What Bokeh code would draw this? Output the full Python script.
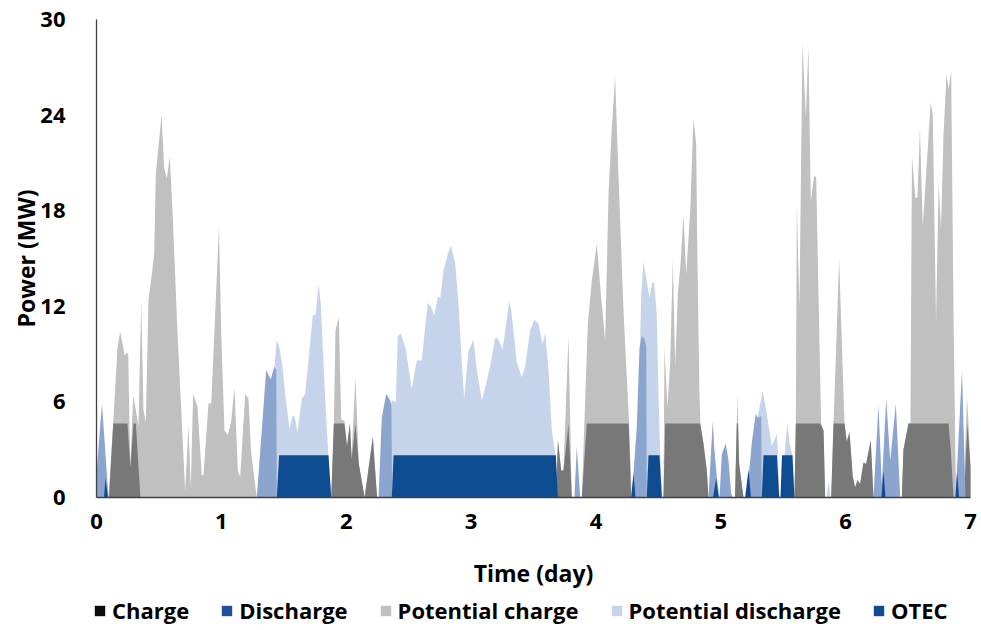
import math
from bokeh.plotting import figure
from bokeh.models import ColumnDataSource, Legend, LegendItem, Range1d, FixedTicker, Label
from bokeh.embed import file_html
from bokeh.resources import INLINE

# ---- data (time in days, power in MW) ----
pc_t = [0, 0.096, 0.134, 0.168, 0.190, 0.227, 0.243, 0.254, 0.270, 0.294, 0.315, 0.336, 0.358, 0.376, 0.395,
        0.416, 0.443, 0.462, 0.475, 0.521, 0.542, 0.563, 0.587, 0.609, 0.649, 0.675, 0.694, 0.710, 0.737,
        0.755, 0.774, 0.809, 0.843, 0.857, 0.897, 0.919, 0.981, 0.999, 1.025, 1.052, 1.079, 1.105, 1.132,
        1.151, 1.191, 1.217, 1.239, 1.284,
        1.880, 1.901, 1.914, 1.941, 1.960, 1.986, 2.008, 2.029, 2.042, 2.074, 2.101, 2.146, 2.213, 2.248,
        3.684, 3.695, 3.722, 3.740, 3.780, 3.807, 3.887, 3.935, 3.967, 4.007, 4.039, 4.074, 4.101, 4.127,
        4.154, 4.181, 4.221, 4.247, 4.266, 4.287,
        4.541, 4.549, 4.573, 4.595, 4.616, 4.635, 4.656, 4.680, 4.701, 4.723, 4.755, 4.781, 4.803, 4.813,
        4.829, 4.837, 4.861, 4.888, 4.901,
        5.114, 5.134, 5.147, 5.182,
        5.590, 5.601, 5.609, 5.630, 5.654, 5.681, 5.702, 5.721, 5.748, 5.764, 5.783, 5.804, 5.823, 5.836,
        5.884, 5.903, 5.948, 5.975, 5.991, 6.009, 6.031, 6.057, 6.076, 6.095, 6.116, 6.143, 6.164, 6.201, 6.223,
        6.450, 6.463, 6.503, 6.519, 6.531, 6.559, 6.575, 6.595, 6.618, 6.681, 6.698, 6.724, 6.745, 6.764,
        6.784, 6.808, 6.825, 6.845, 6.865, 6.884,
        6.944, 6.972, 6.984, 7.000]
pc_v = [0, 0, 4.7, 9.4, 10.4, 8.9, 9.1, 9.0, 1.9, 6.4, 5.5, 4.4, 12.3, 5.5, 4.7,
        12.4, 14.0, 15.3, 20.3, 24.0, 20.7, 20.0, 21.4, 18.0, 10.3, 6.1, 3.0, 0.4, 4.5,
        0.6, 6.5, 5.7, 1.4, 1.4, 5.9, 5.9, 17.0, 10.3, 4.2, 3.9, 4.8, 6.9, 1.7,
        1.3, 6.5, 6.2, 2.8, 0,
        0, 4.65, 10.5, 11.3, 4.9, 4.8, 3.2, 4.65, 2.5, 7.55, 2.1, 0, 3.8, 0,
        0, 3.6, 1.7, 1.7, 10.1, 0, 0, 10.9, 13.6, 15.9, 12.8, 9.9, 19.1, 23.2,
        26.4, 20.1, 11.7, 7.55, 4.6, 0,
        0, 9.4, 5.7, 8.6, 14.9, 8.2, 12.8, 14.9, 17.8, 14.0, 18.0, 23.8, 22.2, 14.9,
        6.5, 4.65, 3.4, 1.7, 0,
        0, 6.5, 2.1, 0,
        0, 4.65, 18.4, 11.95, 28.5, 23.9, 28.3, 18.6, 20.2, 20.1, 12.6, 4.65, 4.2, 0,
        0, 4.65, 15.0, 8.4, 4.65, 3.5, 4.1, 1.3, 0.65, 1.1, 0.85, 2.2, 2.1, 3.6, 0,
        0, 3.0, 4.65, 4.65, 21.4, 18.8, 18.85, 23.2, 17.0, 24.8, 24.0, 11.1, 19.7, 16.9,
        22.8, 26.6, 25.6, 26.8, 10.8, 0,
        0, 6.3, 4.65, 1.9]

pd_t = [0, 1.422, 1.426, 1.444, 1.463, 1.490, 1.511, 1.546, 1.570, 1.586, 1.610, 1.644, 1.671, 1.698,
        1.732, 1.756, 1.778, 1.796, 1.832, 1.858, 1.880,
        2.359, 2.363, 2.379, 2.397, 2.413, 2.437, 2.477, 2.525, 2.565, 2.605, 2.653, 2.677, 2.705, 2.734,
        2.753, 2.779, 2.811, 2.838, 2.873, 2.899, 2.926, 2.945, 2.979, 3.019, 3.046, 3.086, 3.126, 3.161,
        3.193, 3.214, 3.252, 3.278, 3.305, 3.321, 3.366, 3.406, 3.433, 3.473, 3.508, 3.540, 3.572, 3.594,
        3.620, 3.647, 3.679, 3.695,
        4.325, 4.363, 4.381, 4.407, 4.429, 4.451, 4.467, 4.487, 4.501, 4.515, 4.533,
        5.270, 5.294, 5.336, 5.368, 5.409, 5.449, 5.462, 5.470, 5.486, 5.516, 5.534, 5.550, 5.574, 5.590,
        5.847, 5.863, 5.879, 7.0]
pd_v = [0, 0, 8.2, 9.9, 9.5, 8.2, 6.5, 4.3, 5.1, 5.1, 4.1, 6.2, 6.5, 8.6,
        11.4, 11.5, 13.4, 12.2, 6.1, 2.5, 0,
        0, 6.0, 6.1, 6.0, 10.1, 10.3, 9.3, 6.8, 8.6, 8.6, 12.2, 12.0, 11.4, 12.6,
        12.5, 14.25, 15.2, 15.8, 14.7, 12.2, 8.4, 6.2, 9.2, 9.9, 8.0, 6.1, 7.3, 8.6,
        10.0, 10.0, 9.3, 10.7, 12.3, 11.8, 8.5, 7.55, 8.2, 10.5, 11.15, 10.9, 9.65, 10.3,
        8.0, 4.2, 2.5, 0,
        0, 12.8, 14.8, 13.6, 12.5, 13.5, 13.5, 11.5, 6.5, 2.65, 0,
        0, 5.0, 6.7, 5.25, 3.2, 4.0, 2.1, 0, 0, 3.2, 4.7, 3.4, 2.65, 0,
        0, 1.0, 0, 0]

ch_t = [0, 0.100, 0.134, 0.248, 0.272, 0.296, 0.315, 0.352,
        1.880, 1.901, 1.986, 2.006, 2.029, 2.044, 2.074, 2.101, 2.148, 2.213, 2.247,
        3.680, 3.696, 3.722, 3.740, 3.780, 3.807, 3.887, 3.927, 4.262, 4.282,
        4.541, 4.555, 4.834, 4.861, 4.888, 4.901,
        5.114, 5.128, 5.138, 5.147, 5.182,
        5.590, 5.601, 5.796, 5.823, 5.836,
        5.884, 5.903, 5.991, 6.009, 6.031, 6.057, 6.076, 6.095, 6.116, 6.143, 6.164, 6.201, 6.223,
        6.450, 6.463, 6.503, 6.824, 6.842, 6.864,
        6.948, 6.976, 7.000]
ch_v = [0, 0, 4.65, 4.65, 1.9, 4.65, 4.65, 0,
        0, 4.65, 4.65, 3.2, 4.65, 2.4, 4.65, 2.1, 0, 3.8, 0,
        0, 3.6, 1.7, 1.7, 4.6, 0, 0, 4.65, 4.65, 0,
        0, 4.65, 4.65, 3.4, 1.7, 0,
        0, 4.65, 4.65, 2.1, 0,
        0, 4.65, 4.65, 4.2, 0,
        0, 4.65, 4.65, 3.5, 4.1, 1.3, 0.65, 1.1, 0.85, 2.2, 2.1, 3.6, 0,
        0, 3.0, 4.65, 4.65, 3.0, 0,
        0, 4.65, 1.9]

ot_t = [0, 0.044, 0.096,
        1.284, 1.359, 1.396, 1.423, 1.440, 1.444,
        2.259, 2.285, 2.320, 2.352, 2.363, 2.367,
        3.828, 3.847, 3.874,
        4.287, 4.327, 4.349, 4.367, 4.387, 4.403, 4.407,
        4.901, 4.936, 4.947, 4.968, 4.990, 5.008, 5.040, 5.062, 5.083, 5.094,
        5.208, 5.248, 5.280, 5.296, 5.324, 5.328,
        6.223, 6.263, 6.290, 6.325, 6.357, 6.402, 6.437,
        6.876, 6.890, 6.932, 6.960, 7.0]
ot_v = [1.5, 5.9, 0,
        0, 8.0, 7.4, 8.2, 8.0, 0,
        0, 5.0, 6.5, 6.1, 5.8, 0,
        0, 3.2, 0,
        0, 4.4, 9.4, 10.1, 10.0, 9.5, 0,
        0, 4.8, 3.2, 1.3, 0, 2.7, 3.4, 2.3, 0.25, 0,
        0, 3.4, 5.25, 5.0, 5.1, 0,
        0, 5.8, 0.8, 6.2, 2.3, 5.9, 0,
        0, 1.5, 8.0, 0, 0]

dc_t = [0, 0.060, 0.072, 0.092,
        1.444, 1.463, 1.858, 1.880,
        2.365, 2.379, 3.679, 3.695,
        4.282, 4.301, 4.317,
        4.407, 4.421, 4.509, 4.528,
        4.938, 4.963, 4.982,
        5.195, 5.222, 5.242,
        5.328, 5.342, 5.449, 5.468,
        5.478, 5.490, 5.574, 5.590,
        6.287, 6.303, 6.319,
        6.880, 6.893, 6.908, 7.0]
dc_v = [0, 0, 1.2, 0,
        0, 2.65, 2.65, 0,
        0, 2.65, 2.65, 0,
        0, 1.5, 0,
        0, 2.65, 2.65, 0,
        0, 1.2, 0,
        0, 1.75, 0,
        0, 2.65, 2.65, 0,
        0, 2.65, 2.65, 0,
        0, 1.7, 0,
        0, 1.6, 0, 0]

x_ticks = [0, 1, 2, 3, 4, 5, 6, 7]
y_ticks = [0, 6, 12, 18, 24, 30]

names = ["Charge", "Discharge", "Potential charge", "Potential discharge", "OTEC"]
legend_colors = ["#0d0d0d", "#1f4e9c", "#c0c0c0", "#c5d4ea", "#0e4c92"]

FONT = "Open Sans"

# The frame fills the whole canvas; the axes are pinned at x = 0 and y = 0 so that
# their labels, the axis titles and the legend all sit inside the frame.
PX_PER_DAY = 874 / 7
PX_PER_MW = 478 / 30
X_MIN, X_MAX = -96 / PX_PER_DAY, 7 + 11 / PX_PER_DAY
Y_MIN, Y_MAX = -133 / PX_PER_MW, 30 + 19 / PX_PER_MW

p = figure(width=981, height=630, x_range=Range1d(X_MIN, X_MAX), y_range=Range1d(Y_MIN, Y_MAX),
           output_backend="svg", toolbar_location=None,
           min_border_left=0, min_border_right=0, min_border_top=0, min_border_bottom=0)
p.outline_line_color = None
p.grid.visible = False
p.background_fill_color = "white"

def area(t, v, color):
    src = ColumnDataSource(dict(x=t, y1=[0] * len(t), y2=v))
    return p.varea(x="x", y1="y1", y2="y2", source=src, fill_color=color, fill_alpha=1.0)

area(pc_t, pc_v, "#c0c0c0")
area(pd_t, pd_v, "#c5d4ea")
area(ch_t, ch_v, "#787878")
area(ot_t, ot_v, "#8ba5ce")
area(dc_t, dc_v, "#0e4c92")

for ax in (p.xaxis, p.yaxis):
    ax.major_tick_line_color = None
    ax.minor_tick_line_color = None
    ax.axis_line_color = "#404040"
    ax.axis_line_width = 1.3
    ax.major_label_text_font = FONT
    ax.major_label_text_font_style = "bold"
    ax.major_label_text_font_size = "22px"
    ax.major_label_text_color = "#000000"

p.xaxis.ticker = FixedTicker(ticks=x_ticks)
p.yaxis.ticker = FixedTicker(ticks=y_ticks)
p.xaxis.fixed_location = 0
p.yaxis.fixed_location = 0
p.xaxis.bounds = (0, 7)
p.yaxis.bounds = (0, 30)
p.xaxis.major_label_standoff = 10
p.yaxis.major_label_standoff = 25

title_style = dict(text_font=FONT, text_font_style="bold", text_font_size="23px",
                   text_color="#000000", text_align="center", text_baseline="middle")
p.add_layout(Label(x=3.5, y=-75 / PX_PER_MW, text="Time (day)", **title_style))
p.add_layout(Label(x=-71 / PX_PER_DAY, y=15, text="Power (MW)", angle=math.pi / 2, **title_style))

# legend swatches: dummy renderers placed outside the visible x range
items = []
for name, col in zip(names, legend_colors):
    src = ColumnDataSource(dict(x=[-3, -2], y1=[0, 0], y2=[1, 1]))
    r = p.varea(x="x", y1="y1", y2="y2", source=src, fill_color=col)
    items.append(LegendItem(label=name, renderers=[r]))

legend = Legend(items=items, orientation="horizontal", location=(93, 5),
                label_text_font=FONT, label_text_font_style="bold", label_text_font_size="22px",
                label_text_color="#000000", glyph_width=13, glyph_height=13, label_standoff=6,
                spacing=31, padding=0, margin=0, border_line_color=None,
                background_fill_alpha=0)
p.add_layout(legend, "center")

open("out.html", "w").write(file_html(p, INLINE))
